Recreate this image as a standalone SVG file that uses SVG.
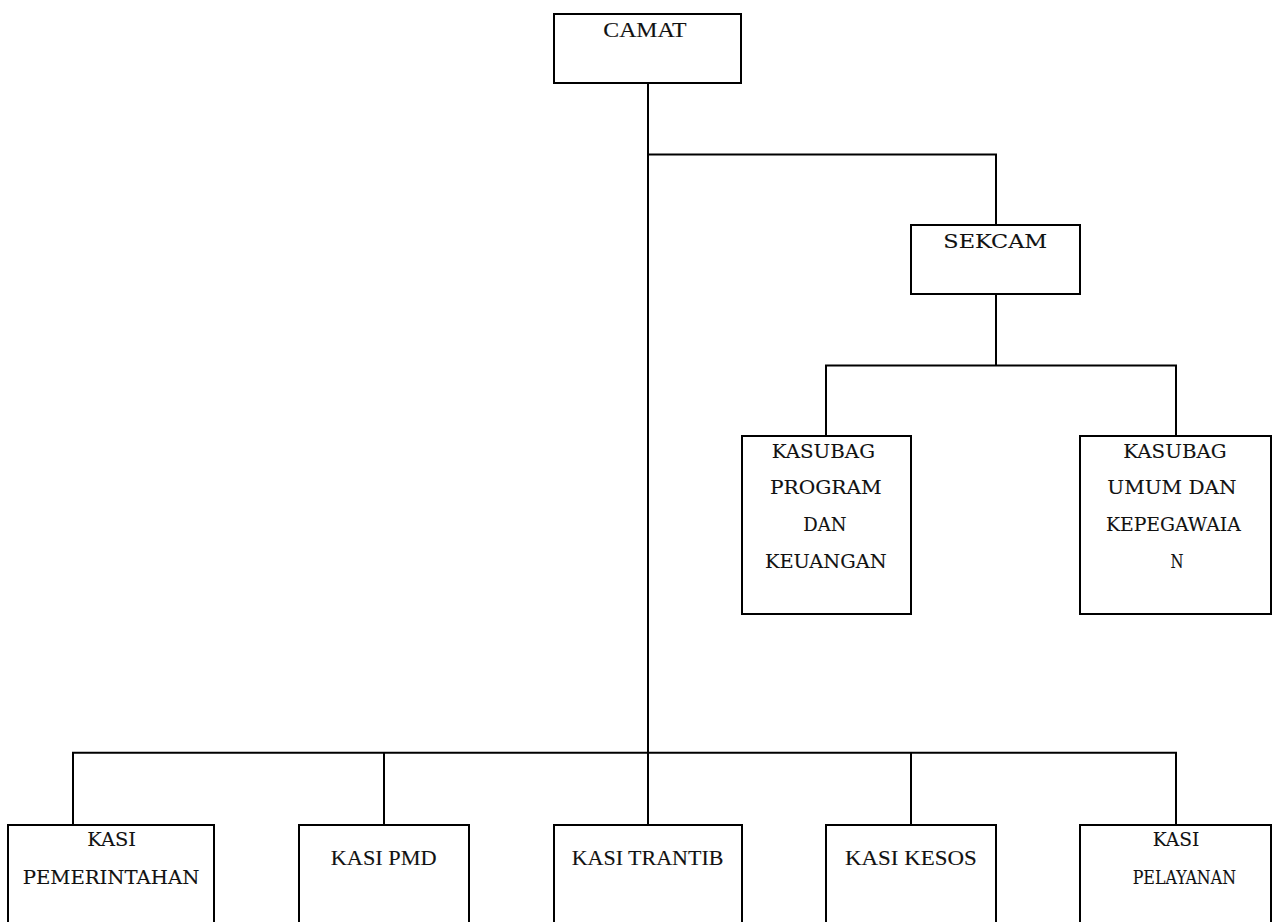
<svg xmlns="http://www.w3.org/2000/svg" width="1274" height="922" viewBox="0 0 1274 922">
  <style>
    .box { fill: #ffffff; stroke: #000000; stroke-width: 2; }
    .conn { fill: none; stroke: #000000; stroke-width: 2; }
    .bk { font-family: "DejaVu Serif", "Liberation Serif", serif; font-size: 18px; fill: #111111; stroke: #111111; stroke-width: 0.12; }
    .tm { font-family: "Liberation Serif", "Times New Roman", serif; font-size: 22px; fill: #111111; stroke: #111111; stroke-width: 0.12; }
  </style>
  <rect x="0" y="0" width="1274" height="922" fill="#ffffff"/>

  <g id="connectors">
    <path class="conn" d="M648,83 V753"/>
    <path class="conn" d="M648,154.5 H996 V225"/>
    <path class="conn" d="M996,294 V365.5"/>
    <path class="conn" d="M826,436 V365.5 H1176 V436"/>
    <path class="conn" d="M73,825 V752.7 H1176 V825"/>
    <path class="conn" d="M384,752.7 V825"/>
    <path class="conn" d="M648,752.7 V825"/>
    <path class="conn" d="M911,752.7 V825"/>
  </g>

  <g id="camat">
    <rect class="box" x="554" y="14" width="187" height="69"/>
    <text class="tm" x="603.3" y="37.3" font-size="23" textLength="83.3" lengthAdjust="spacingAndGlyphs">CAMAT</text>
  </g>

  <g id="sekcam">
    <rect class="box" x="911" y="225" width="169" height="69"/>
    <text class="bk" x="943.3" y="248.3" font-size="20.5" textLength="104" lengthAdjust="spacingAndGlyphs">SEKCAM</text>
  </g>

  <g id="kasubag-program">
    <rect class="box" x="742" y="436" width="169" height="178"/>
    <text class="bk" x="771.7" y="457.7" textLength="103.3" lengthAdjust="spacingAndGlyphs">KASUBAG</text>
    <text class="bk" x="770" y="494.3" textLength="111.7" lengthAdjust="spacingAndGlyphs">PROGRAM</text>
    <text class="bk" x="803.3" y="531" textLength="43.3" lengthAdjust="spacingAndGlyphs">DAN</text>
    <text class="bk" x="765" y="568.3" textLength="121.7" lengthAdjust="spacingAndGlyphs">KEUANGAN</text>
  </g>

  <g id="kasubag-umum">
    <rect class="box" x="1080" y="436" width="191" height="178"/>
    <text class="bk" x="1123.3" y="457.7" textLength="103.3" lengthAdjust="spacingAndGlyphs">KASUBAG</text>
    <text class="bk" x="1107.3" y="494.3" textLength="129.3" lengthAdjust="spacingAndGlyphs">UMUM DAN</text>
    <text class="bk" x="1106" y="531" textLength="134.7" lengthAdjust="spacingAndGlyphs">KEPEGAWAIA</text>
    <text class="bk" x="1170.5" y="568.3" textLength="13" lengthAdjust="spacingAndGlyphs">N</text>
  </g>

  <g id="kasi-pemerintahan">
    <rect class="box" x="8" y="825" width="206" height="120"/>
    <text class="bk" x="87.3" y="846" textLength="48.7" lengthAdjust="spacingAndGlyphs">KASI</text>
    <text class="bk" x="22.7" y="884" textLength="176.7" lengthAdjust="spacingAndGlyphs">PEMERINTAHAN</text>
  </g>

  <g id="kasi-pmd">
    <rect class="box" x="299" y="825" width="170" height="120"/>
    <text class="tm" x="330.7" y="865" textLength="106" lengthAdjust="spacingAndGlyphs">KASI PMD</text>
  </g>

  <g id="kasi-trantib">
    <rect class="box" x="554" y="825" width="188" height="120"/>
    <text class="tm" x="571.7" y="865" textLength="151.7" lengthAdjust="spacingAndGlyphs">KASI TRANTIB</text>
  </g>

  <g id="kasi-kesos">
    <rect class="box" x="826" y="825" width="170" height="120"/>
    <text class="tm" x="845" y="865" textLength="131.7" lengthAdjust="spacingAndGlyphs">KASI KESOS</text>
  </g>

  <g id="kasi-pelayanan">
    <rect class="box" x="1080" y="825" width="191" height="120"/>
    <text class="bk" x="1152.7" y="846" textLength="46.7" lengthAdjust="spacingAndGlyphs">KASI</text>
    <text class="bk" x="1132.7" y="884" textLength="103.3" lengthAdjust="spacingAndGlyphs">PELAYANAN</text>
  </g>
</svg>
